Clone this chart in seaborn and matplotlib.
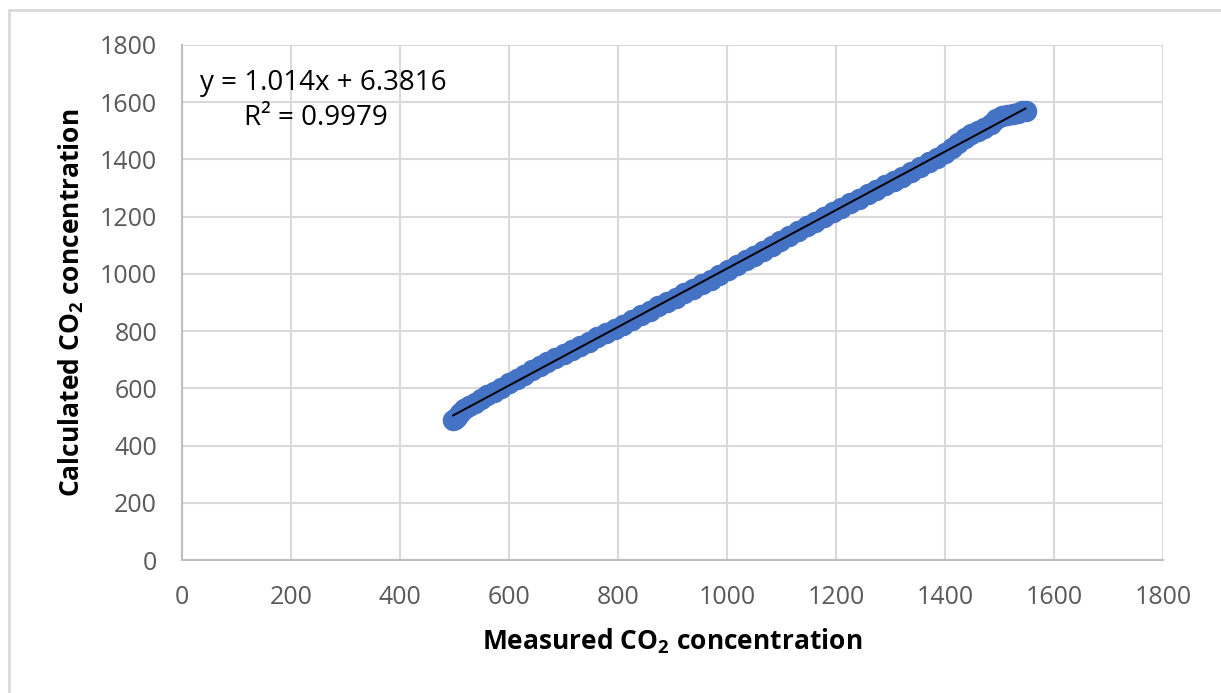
import matplotlib
matplotlib.use("Agg")
import matplotlib.pyplot as plt
import seaborn as sns
import pandas as pd
from matplotlib.lines import Line2D

measured = [497, 500, 504, 510, 518, 527, 537, 548, 560, 573, 586, 600, 614, 628, 642, 656,
            670, 685, 700, 715, 730, 746, 762, 778, 794, 810, 826, 842, 858, 874, 890, 906,
            922, 938, 954, 970, 986, 1002, 1018, 1034, 1050, 1066, 1082, 1098, 1114, 1130,
            1146, 1162, 1178, 1194, 1210, 1226, 1242, 1258, 1274, 1290, 1306, 1322, 1338,
            1354, 1370, 1386, 1400, 1412, 1424, 1436, 1448, 1460, 1472, 1484, 1494, 1504,
            1514, 1524, 1534, 1542, 1548]
calculated = [490, 492, 500, 515, 528, 538, 549, 561, 575, 588, 602, 618, 633, 648, 664, 678,
              692, 706, 720, 734, 748, 763, 778, 794, 808, 823, 840, 856, 871, 888, 903, 917,
              932, 948, 963, 980, 996, 1014, 1030, 1047, 1064, 1081, 1099, 1116, 1132, 1150,
              1166, 1183, 1199, 1216, 1232, 1248, 1262, 1278, 1294, 1309, 1324, 1340, 1356,
              1372, 1390, 1406, 1422, 1440, 1458, 1474, 1488, 1498, 1510, 1524, 1540, 1552,
              1556, 1560, 1564, 1568, 1568]
ticks = [0, 200, 400, 600, 800, 1000, 1200, 1400, 1600, 1800]
equation = "y = 1.014x + 6.3816"
r2_text = "R² = 0.9979"

sns.set_theme(style="white")
plt.rcParams['font.family'] = ['Open Sans', 'DejaVu Sans']
plt.rcParams['mathtext.fontset'] = 'custom'
plt.rcParams['mathtext.rm'] = 'Open Sans'
plt.rcParams['mathtext.bf'] = 'Open Sans:bold'

df = pd.DataFrame({"Measured": measured, "Calculated": calculated})

W, H = 1221, 693
fig = plt.figure(figsize=(W / 100, H / 100), dpi=100)
ax = fig.add_axes([182 / W, 1 - 560 / H, (1163 - 182) / W, (560 - 45) / H])

sns.regplot(data=df, x="Measured", y="Calculated", ax=ax, ci=None,
            scatter_kws=dict(s=240, color="#4472C4", alpha=1, linewidths=0, zorder=3),
            line_kws=dict(color="black", lw=1.4, zorder=4))

ax.set_xlim(0, 1800)
ax.set_ylim(0, 1800)
ax.set_xticks(ticks)
ax.set_yticks(ticks)
ax.grid(True, color="#d9d9d9", lw=1.5)
ax.set_axisbelow(True)
for s in ["top", "right"]:
    ax.spines[s].set_visible(False)
for s in ["bottom", "left"]:
    ax.spines[s].set_color("#bfbfbf")
    ax.spines[s].set_linewidth(1.5)
ax.tick_params(axis="both", which="both", direction="out", length=6, width=1.2,
               color="#bfbfbf", labelcolor="#595959", labelsize=18)
ax.tick_params(axis="x", pad=12)
ax.tick_params(axis="y", pad=12)

ax.set_xlabel(r"Measured CO$_\mathbf{2}$ concentration", fontsize=19, fontweight="bold",
              color="black", labelpad=12)
ax.set_ylabel(r"Calculated CO$_\mathbf{2}$ concentration", fontsize=19, fontweight="bold",
              color="black", labelpad=10)

fig.text(323 / W, 1 - 83 / H, equation, ha="center", va="center", fontsize=20, color="black")
fig.text(316 / W, 1 - 118 / H, r2_text, ha="center", va="center", fontsize=20, color="black")

# chart area border (top & left visible)
fig.add_artist(Line2D([9 / W, 9 / W], [0, 1 - 10 / H], transform=fig.transFigure,
                      color="#d9d9d9", lw=2))
fig.add_artist(Line2D([9 / W, 1], [1 - 10 / H, 1 - 10 / H], transform=fig.transFigure,
                      color="#d9d9d9", lw=2))

fig.savefig("out.png", dpi=100, facecolor="white")
